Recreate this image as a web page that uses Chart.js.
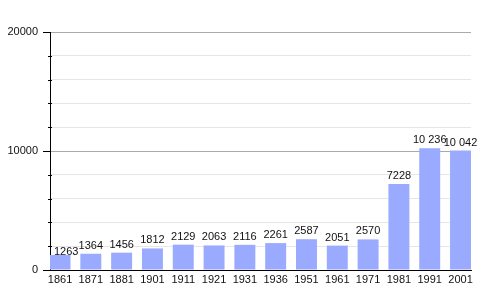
<!DOCTYPE html>
<html>
<head>
<meta charset="utf-8">
<script src="https://cdn.jsdelivr.net/npm/chart.js@4"></script>
<style>
  html, body { margin: 0; padding: 0; background: #fff; }
  #chart { display: block; }
</style>
</head>
<body>
<canvas id="chart" width="500" height="300"></canvas>
<script>
const years = ['1861', '1871', '1881', '1901', '1911', '1921', '1931', '1936', '1951', '1961', '1971', '1981', '1991', '2001'];
const population = [1263, 1364, 1456, 1812, 2129, 2063, 2116, 2261, 2587, 2051, 2570, 7228, 10236, 10042];
const majorTicks = [0, 10000, 20000];

const FAMILY = 'Liberation Sans, Arial, sans-serif';

function fmt(v) {
    // thousands separated by a space only above 9999, as in the source
    return v >= 10000 ? String(v).replace(/\B(?=(\d{3})+(?!\d))/g, ' ') : String(v);
}

const valueLabels = {
    id: 'valueLabels',
    afterDatasetsDraw(chart) {
        const ctx = chart.ctx;
        const meta = chart.getDatasetMeta(0);
        const minLeft = chart.chartArea.left + 4;
        ctx.save();
        ctx.font = `11px ${FAMILY}`;
        ctx.fillStyle = '#111';
        ctx.textAlign = 'center';
        ctx.textBaseline = 'alphabetic';
        meta.data.forEach((bar, i) => {
            const text = fmt(population[i]);
            const w = ctx.measureText(text).width;
            let x = bar.x;
            let y = bar.y - 5;
            // labels that would hit the y axis get nudged right and down, like the source
            if (x - w / 2 < minLeft) {
                x = minLeft + w / 2;
                y = bar.y;
            }
            ctx.fillText(text, x, y);
        });
        ctx.restore();
    }
};

const yTickMarks = {
    id: 'yTickMarks',
    afterDraw(chart) {
        const ctx = chart.ctx;
        const y = chart.scales.y;
        const left = chart.chartArea.left;
        ctx.save();
        ctx.strokeStyle = '#000';
        ctx.lineWidth = 1;
        for (let v = 0; v <= 20000; v += 2000) {
            const py = Math.round(y.getPixelForValue(v)) + 0.5;
            const major = majorTicks.includes(v);
            ctx.beginPath();
            ctx.moveTo(left - (major ? 7 : 2), py);
            ctx.lineTo(left + (major ? 0 : 2), py);
            ctx.stroke();
        }
        ctx.restore();
    }
};

new Chart(document.getElementById('chart'), {
    type: 'bar',
    data: {
        datasets: [{
            data: population.map((v, i) => ({ x: i, y: v })),
            backgroundColor: '#99aaff',
            categoryPercentage: 0.68,
            barPercentage: 1.0
        }]
    },
    options: {
        responsive: false,
        animation: false,
        devicePixelRatio: 1,
        layout: { padding: { top: 32, right: 29, left: 0, bottom: 0 } },
        plugins: {
            legend: { display: false },
            tooltip: { enabled: false }
        },
        scales: {
            x: {
                type: 'linear',
                offset: false,
                min: -0.325,
                max: 13.34,
                grid: { display: false, drawTicks: false },
                border: { display: true, color: '#000', width: 1 },
                afterBuildTicks(scale) { scale.ticks = years.map((_, i) => ({ value: i })); },
                ticks: {
                    color: '#111',
                    font: { family: FAMILY, size: 11 },
                    padding: 3,
                    maxRotation: 0,
                    autoSkip: false,
                    callback: v => years[v] ?? ''
                },
                afterFit(scale) { scale.height = 30; }
            },
            y: {
                min: 0,
                max: 20000,
                grid: {
                    drawTicks: false,
                    color: ctx => majorTicks.includes(ctx.tick.value) ? '#aaaaaa' : '#e6e6e6'
                },
                border: { display: true, color: '#000', width: 1 },
                ticks: {
                    stepSize: 2000,
                    color: '#111',
                    font: { family: FAMILY, size: 11 },
                    padding: 12,
                    callback: v => majorTicks.includes(v) ? String(v) : ''
                },
                afterFit(scale) { scale.width = 50; }
            }
        }
    },
    plugins: [valueLabels, yTickMarks]
});
</script>
</body>
</html>
